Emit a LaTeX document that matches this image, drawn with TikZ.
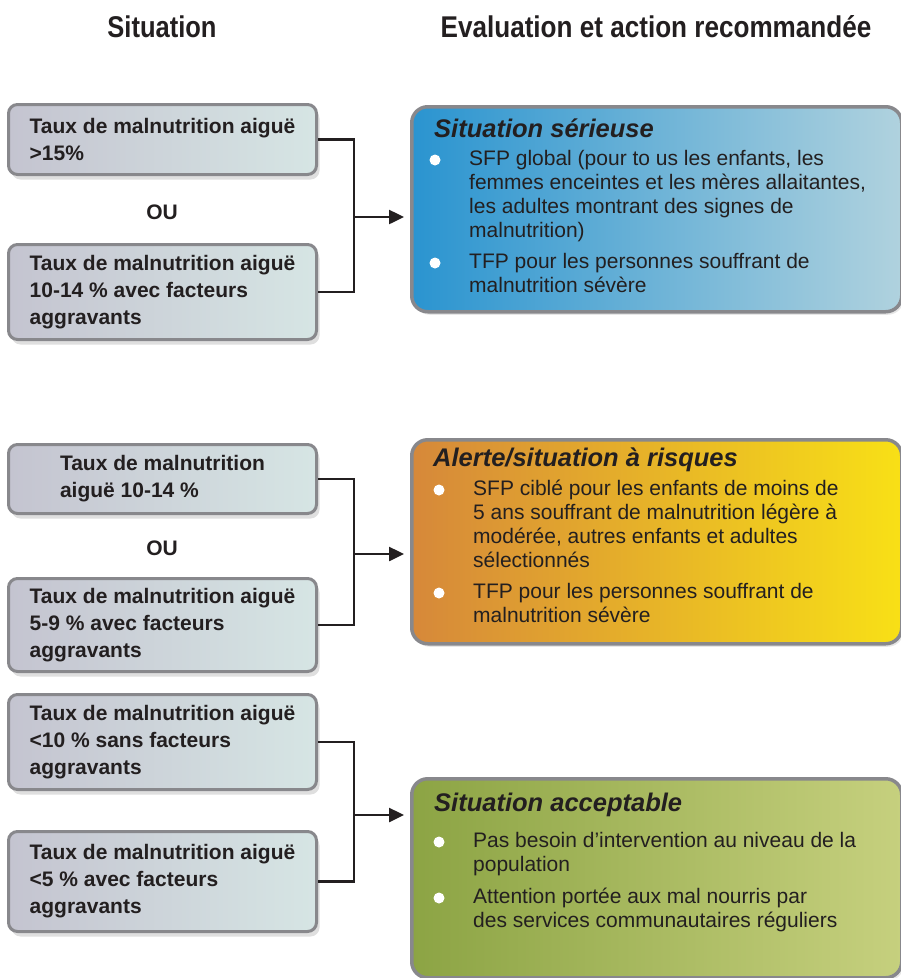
\documentclass[tikz,border=0pt]{standalone}
\usepackage{fontspec}
\usepackage{graphicx}
\setmainfont{Liberation Sans}
\usetikzlibrary{arrows.meta,shadows}

\definecolor{rim}{RGB}{136,136,140}
\definecolor{ink}{RGB}{35,31,32}
\definecolor{sitL}{RGB}{196,196,208}
\definecolor{sitR}{RGB}{214,229,228}
\definecolor{serL}{RGB}{42,148,208}
\definecolor{serM}{RGB}{118,178,210}
\definecolor{serR}{RGB}{176,210,222}
\definecolor{aleL}{RGB}{214,136,58}
\definecolor{aleM}{RGB}{242,196,36}
\definecolor{aleR}{RGB}{248,224,22}
\definecolor{accL}{RGB}{140,164,68}
\definecolor{accM}{RGB}{224,220,58}
\definecolor{accR}{RGB}{198,208,126}

\begin{document}
\begin{tikzpicture}[x=1pt,y=-1pt,
  sit/.style ={draw=rim, line width=3pt, rounded corners=9pt, left color=sitL, right color=sitR,
               anchor=north west, minimum width=308pt, align=left, inner sep=0pt, text=ink,
               font=\fontsize{21}{27}\selectfont\bfseries,
               drop shadow={shadow xshift=3pt, shadow yshift=-5pt, opacity=0.25}},
  eval/.style={draw=rim, line width=3.5pt, rounded corners=16pt, anchor=north west,
               minimum width=490pt, minimum height=204pt,
               drop shadow={shadow xshift=2pt, shadow yshift=-3pt, opacity=0.2}},
  ttl/.style ={anchor=west, inner sep=0pt, text=ink, font=\fontsize{25.5}{30}\selectfont\bfseries\itshape},
  itm/.style ={anchor=north west, align=left, inner sep=0pt, text=ink, font=\fontsize{21}{24}\selectfont},
  dot/.style ={fill=white},
  ou/.style  ={text=ink, font=\fontsize{21}{25}\selectfont\bfseries},
  hd/.style  ={text=ink, font=\fontsize{30}{36}\selectfont\bfseries},
  link/.style={draw=ink, line width=2.5pt},
  arr/.style ={link, -{Triangle[length=15pt,width=14pt]}, shorten >=6pt}]

  \useasboundingbox (0,0) rectangle (901,978);

  % ---------------- column heads ----------------
  \node[hd] (hdsit)  at (162,27) {\scalebox{0.85}[1]{Situation}};
  \node[hd] (hdeval) at (656,27) {\scalebox{0.87}[1]{Evaluation et action recommandée}};

  % ---------------- situations (left column) ----------------
  \node[sit, minimum height=70pt] (s1) at (7,103) {Taux de malnutrition aiguë\\>15\%};
  \node[ou] (ou1) at (162,212) {OU};
  \node[sit, minimum height=95pt] (s2) at (7,243) {Taux de malnutrition aiguë\\10-14 \% avec facteurs\\aggravants};

  \node[sit, minimum height=69pt] (s3) at (7,443) {Taux de malnutrition\\aiguë 10-14 \%};
  \node[ou] (ou2) at (162,548) {OU};
  \node[sit, minimum height=93pt] (s4) at (7,577) {Taux de malnutrition aiguë\\5-9 \% avec facteurs\\aggravants};

  \node[sit, minimum height=95pt] (s5) at (7,693) {Taux de malnutrition aiguë\\<10 \% sans facteurs\\aggravants};
  \node[sit, minimum height=100pt] (s6) at (7,830) {Taux de malnutrition aiguë\\<5 \% avec facteurs\\aggravants};

  % ---------------- evaluation boxes (right column) ----------------
  \node[eval, left color=serL, middle color=serM, right color=serR, minimum height=205pt] (e1) at (410,105) {};
  \node[eval, left color=aleL, middle color=aleM, right color=aleR] (e2) at (410,438) {};
  \node[eval, left color=accL, middle color=accM, right color=accR, minimum height=199pt] (e3) at (410,777) {};

  % serious
  \node[ttl] (t1) at (434,128) {Situation sérieuse};
  \fill[dot] (435,160) circle (5.5pt);
  \node[itm] (b11) at (469,148.7) {\strut SFP global (pour to us les enfants, les\\femmes enceintes et les mères allaitantes,\\les adultes montrant des signes de\\malnutrition)};
  \fill[dot] (435,263) circle (5.5pt);
  \node[itm] (b12) at (469,251.7) {\strut TFP pour les personnes souffrant de\\malnutrition sévère};

  % alert
  \node[ttl] (t2) at (433,460) {Alerte/situation à risques};
  \fill[dot] (439,490) circle (5.5pt);
  \node[itm] (b21) at (473,478.7) {\strut SFP ciblé pour les enfants de moins de\\5 ans souffrant de malnutrition légère à\\modérée, autres enfants et adultes\\sélectionnés};
  \fill[dot] (439,593) circle (5.5pt);
  \node[itm] (b22) at (473,581.7) {\strut TFP pour les personnes souffrant de\\malnutrition sévère};

  % acceptable
  \node[ttl] (t3) at (434,805) {Situation acceptable};
  \fill[dot] (439,842) circle (5.5pt);
  \node[itm] (b31) at (473,830.7) {\strut Pas besoin d’intervention au niveau de la\\population};
  \fill[dot] (439,898) circle (5.5pt);
  \node[itm] (b32) at (473,886.7) {\strut Attention portée aux mal nourris par\\des services communautaires réguliers};

  % ---------------- connectors ----------------
  \coordinate (j1) at (354,217);
  \draw[link] (s1.east) -| (j1) |- (s2.east);
  \draw[arr]  (j1) -- (j1 -| e1.west);

  \coordinate (j2) at (354,554);
  \draw[link] (s3.east) -| (j2) |- (s4.east);
  \draw[arr]  (j2) -- (j2 -| e2.west);

  \coordinate (j3) at (354,815);
  \draw[link] (s5.east) -| (j3) |- (s6.east);
  \draw[arr]  (j3) -- (j3 -| e3.west);
\end{tikzpicture}
\end{document}
